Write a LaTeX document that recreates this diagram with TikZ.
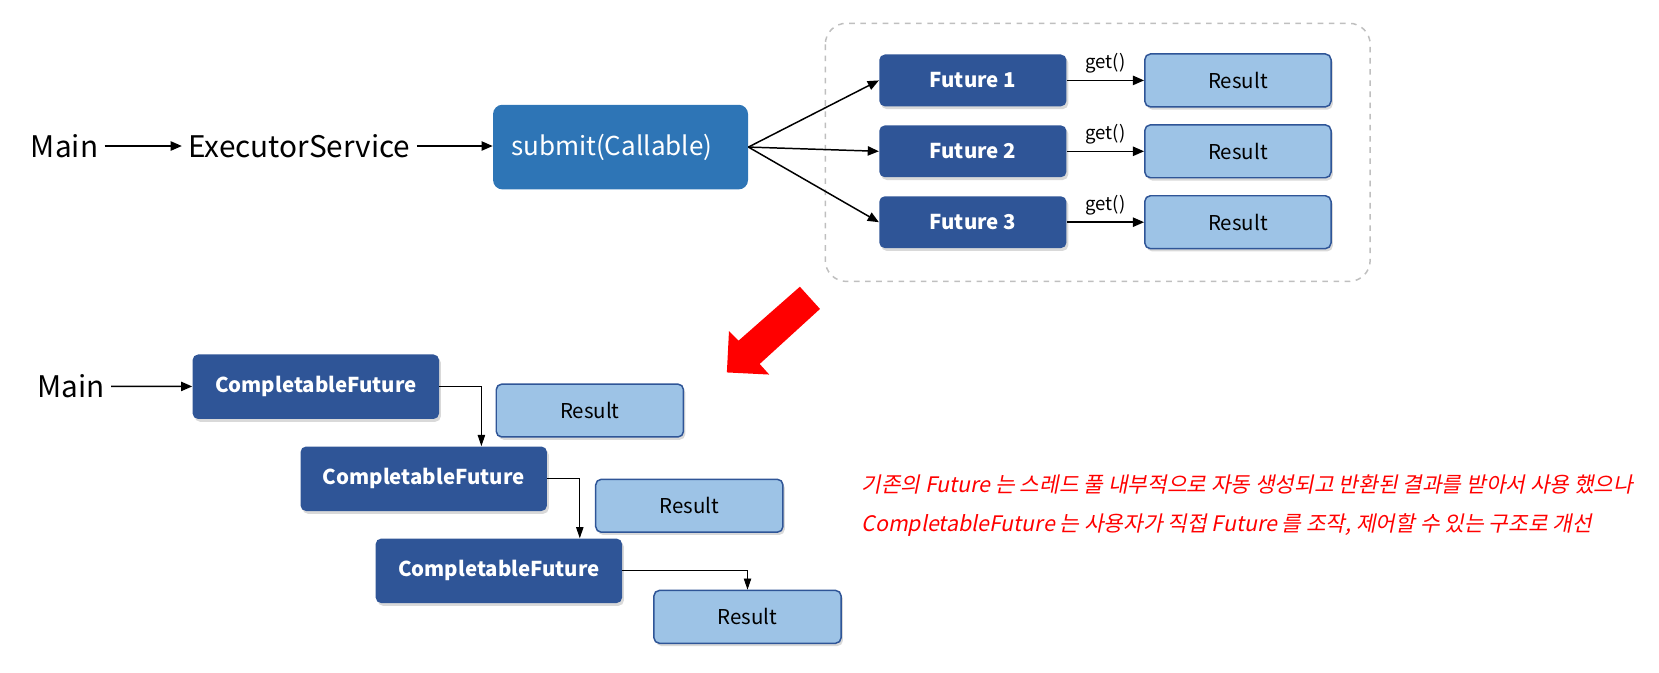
\documentclass[tikz,border=0pt]{standalone}
\usepackage{fontspec}
\setmainfont{Noto Sans CJK KR}
\newfontfamily\krit[FakeSlant=0.2]{Noto Sans CJK KR}
\usetikzlibrary{shadows,arrows.meta}

\definecolor{subblue}{HTML}{2E75B6}
\definecolor{futblue}{HTML}{2F5597}
\definecolor{resblue}{HTML}{9DC3E6}
\definecolor{boxgray}{HTML}{BFBFBF}

\begin{document}
\begin{tikzpicture}[x=0.02cm, y=-0.02cm,
	arr/.style={-{Triangle[length=6pt,width=5pt]}, line width=0.8pt},
	thinarr/.style={-{Triangle[length=6pt,width=4pt]}, line width=0.5pt},
	shad/.style={drop shadow={shadow xshift=1pt, shadow yshift=-1.5pt, opacity=0.3}},
	fut/.style={shad, fill=futblue, rounded corners=3pt, text=white, font=\bfseries\fontsize{11}{13}\selectfont, minimum width=3.54cm, minimum height=0.98cm},
	res/.style={shad, fill=resblue, draw=futblue, line width=0.8pt, rounded corners=3pt, font=\fontsize{11}{13}\selectfont, minimum height=1cm},
	cf/.style={fut, minimum width=4.66cm, minimum height=1.22cm},
	big/.style={font=\fontsize{16}{19}\selectfont},
	note/.style={anchor=west, text=red, font=\krit\fontsize{11.5}{14}\selectfont}]

	\useasboundingbox (0,0) rectangle (1568,636);

	% executor service part
	\draw[boxgray, dashed, line width=0.8pt, rounded corners=0.4cm] (780,22) rectangle (1295,266);

	\node[big] (main1) at (61,138) {Main};
	\node[big] (exec) at (283,138) {ExecutorService};
	\node[fill=subblue, rounded corners=5pt, text=white, font=\fontsize{14}{17}\selectfont,
		minimum height=1.6cm, text width=4.14cm, inner xsep=0.34cm, align=left] (submit) at (586.5,139) {submit(Callable)};

	\draw[arr] (main1) -- (exec);
	\draw[arr] (exec) -- (exec -| submit.west);

	\foreach \i/\y in {1/76,2/143,3/210} {
		\node[fut] (fut\i) at (919.5,\y) {Future \i};
		\node[res, minimum width=3.52cm] (res\i) at (1170,\y) {Result};
		\draw[arr] (submit.east) -- (fut\i.west);
		\draw[arr] (fut\i) -- (res\i) node[midway, above, font=\fontsize{10}{12}\selectfont] {get()};
	}

	% red arrow
	\fill[red] (756,271) -- (698,322) -- (689,313) -- (687,352) -- (727,354) -- (718,344) -- (775,292) -- cycle;

	% completable future part
	\node[big] (main2) at (67,365) {Main};
	\node[cf] (cf1) at (298.5,365.5) {CompletableFuture};
	\node[cf] (cf2) at (400.5,452.5) {CompletableFuture};
	\node[cf] (cf3) at (471.5,539.5) {CompletableFuture};
	\node[res, minimum width=3.54cm] (cres1) at (557.5,388) {Result};
	\node[res, minimum width=3.54cm] (cres2) at (651.5,478) {Result};
	\node[res, minimum width=3.54cm] (cres3) at (706.5,583) {Result};

	\draw[arr] (main2) -- (cf1);
	\draw[thinarr] (cf1.east) -| ([xshift=1.09cm]cf2.north);
	\draw[thinarr] (cf2.east) -| ([xshift=1.53cm]cf3.north);
	\draw[thinarr] (cf3.east) -| (cres3.north);

	\node[note] (note1) at (808,458) {기존의 Future 는 스레드 풀 내부적으로 자동 생성되고 반환된 결과를 받아서 사용 했으나};
	\node[note] (note2) at (808,496) {CompletableFuture 는 사용자가 직접 Future 를 조작, 제어할 수 있는 구조로 개선};

\end{tikzpicture}
\end{document}
